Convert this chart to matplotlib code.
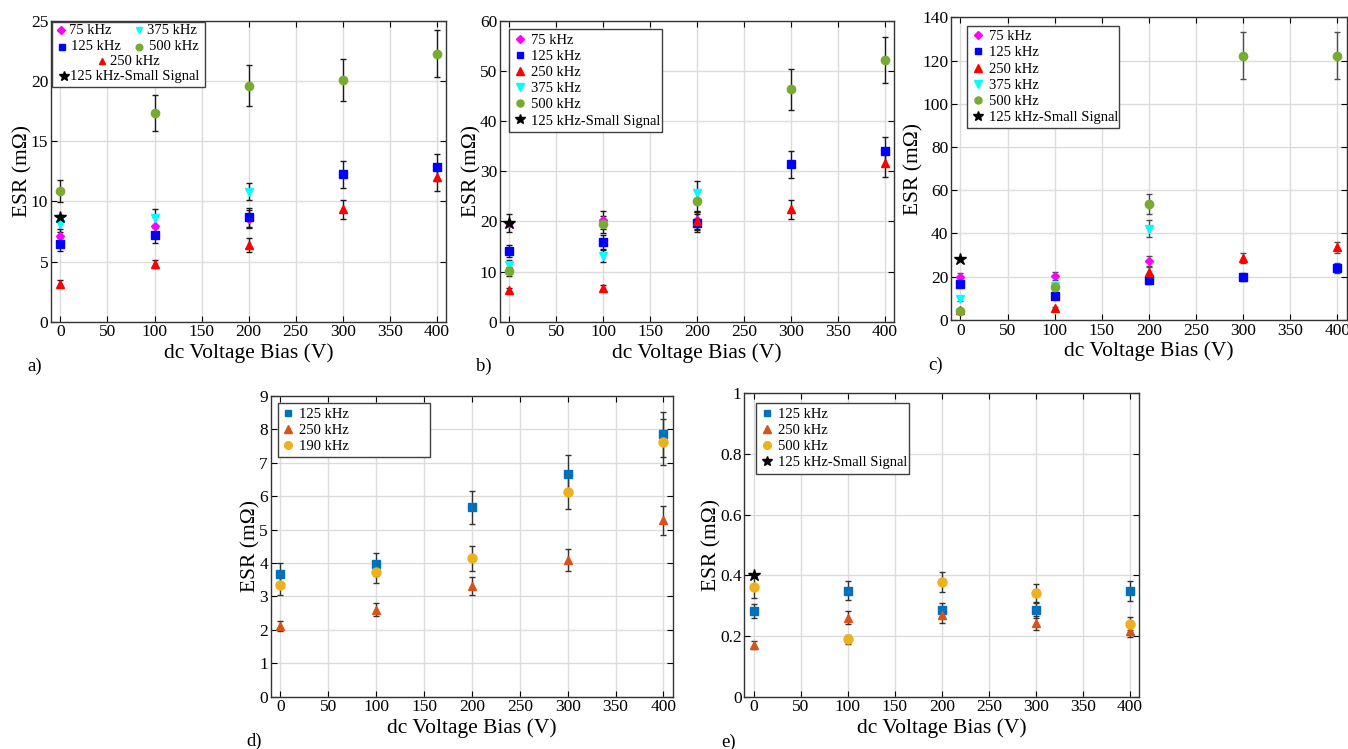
import numpy as np
import matplotlib
matplotlib.use("Agg")
import matplotlib.pyplot as plt
from matplotlib.patches import Rectangle

plt.rcParams['font.family'] = ['Liberation Serif', 'DejaVu Serif']

nan = np.nan
bias = [0, 100, 200, 300, 400]

# ---- panel a) ----
a_75 = [7.12, 7.98, 8.54, nan, nan]
a_75_err = [0.6, 0.7, 0.75, nan, nan]
a_125 = [6.43, 7.18, 8.68, 12.25, 12.83]
a_125_err = [0.55, 0.64, 0.8, 1.1, 1.1]
a_250 = [3.16, 4.82, 6.37, 9.34, 12.0]
a_250_err = [0.28, 0.35, 0.55, 0.8, 1.1]
a_375 = [8.15, 8.65, 10.81, nan, nan]
a_375_err = [0.7, 0.75, 0.7, nan, nan]
a_500 = [10.86, 17.38, 19.62, 20.1, 22.28]
a_500_err = [0.95, 1.5, 1.7, 1.76, 1.95]
a_ss = [8.7]

# ---- panel b) ----
b_75 = [19.76, 20.36, 20.36, nan, nan]
b_75_err = [1.8, 1.8, 1.8, nan, nan]
b_125 = [14.1, 15.83, 19.6, 31.4, 34.0]
b_125_err = [1.2, 1.4, 1.8, 2.75, 2.9]
b_250 = [6.25, 6.65, 20.0, 22.42, 31.6]
b_250_err = [0.5, 0.6, 1.8, 1.9, 2.8]
b_375 = [11.24, 13.04, 25.75, nan, nan]
b_375_err = [1.0, 1.2, 2.3, nan, nan]
b_500 = [10.05, 19.43, 24.15, 46.37, 52.23]
b_500_err = [0.9, 1.7, 2.2, 4.1, 4.55]
b_ss = [19.63]

# ---- panel c) ----
c_75 = [19.7, 20.2, 27.3, nan, nan]
c_75_err = [1.8, 1.8, 2.4, nan, nan]
c_125 = [16.65, 11.1, 18.35, 19.9, 24.05]
c_125_err = [1.5, 1.0, 1.6, 1.8, 2.1]
c_250 = [4.6, 5.55, 22.36, 28.68, 33.6]
c_250_err = [0.4, 0.5, 2.0, 2.5, 2.4]
c_375 = [9.7, 15.9, 42.2, nan, nan]
c_375_err = [0.9, 1.4, 3.9, nan, nan]
c_500 = [4.16, 15.1, 53.5, 122.3, 122.3]
c_500_err = [0.4, 1.3, 4.7, 10.7, 10.7]
c_ss = [28.06]

# ---- panel d) ----
d_125 = [3.66, 3.96, 5.67, 6.66, 7.85]
d_125_err = [0.33, 0.35, 0.49, 0.58, 0.68]
d_250 = [2.12, 2.61, 3.31, 4.09, 5.28]
d_250_err = [0.16, 0.2, 0.26, 0.33, 0.43]
d_190 = [3.35, 3.73, 4.14, 6.14, 7.61]
d_190_err = [0.3, 0.32, 0.37, 0.52, 0.69]

# ---- panel e) ----
e_125 = [0.281, 0.35, 0.285, 0.285, 0.347]
e_125_err = [0.023, 0.03, 0.023, 0.025, 0.033]
e_250 = [0.17, 0.26, 0.269, 0.243, 0.218]
e_250_err = [0.014, 0.021, 0.026, 0.022, 0.02]
e_500 = [0.36, 0.189, 0.378, 0.341, 0.241]
e_500_err = [0.033, 0.016, 0.033, 0.03, 0.021]
e_ss = [0.402]

MAGENTA, BLUE, RED, CYAN, GREEN = '#ff00ff', '#0000ff', '#ff0000', '#00ffff', '#77ac30'
MBLUE, MORANGE, MYELLOW = '#0072bd', '#d95319', '#edb120'


def series(ax, y, err, color, marker, label, ms=5.5, ecolor='0.1'):
    c = ax.errorbar(bias[:len(y)], y, yerr=err, fmt=marker, color=color, ms=ms,
                    mec=color, ecolor=ecolor, elinewidth=1.0, capsize=2.5,
                    capthick=1.0, zorder=3)
    c[0].set_label(label)
    return c[0]


def star(ax, y):
    return ax.plot(bias[:len(y)], y, '*', color='black', ms=9, zorder=4,
                   label='125 kHz-Small Signal')[0]


def style(ax, ymax, ystep, panel, yfmt=None):
    ax.set_xlim(-10, 410)
    ax.set_ylim(0, ymax)
    ax.set_xticks(np.arange(0, 401, 50))
    yt = np.arange(0, ymax + ystep / 2, ystep)
    ax.set_yticks(yt)
    if yfmt:
        ax.set_yticklabels([yfmt(v) for v in yt])
    ax.grid(True, color='#dcdcdc', lw=1.0, zorder=0)
    ax.tick_params(direction='in', top=True, right=True, length=4,
                   labelsize=12.5, pad=2, color='black')
    for s in ax.spines.values():
        s.set_color('0.2')
        s.set_linewidth(1.0)
    ax.set_xlabel('dc Voltage Bias (V)', fontsize=15.5, labelpad=2)
    ax.set_ylabel('ESR (mΩ)', fontsize=15.5, labelpad=-1)
    ax.text(-0.04, -0.15, panel, transform=ax.transAxes, fontsize=13.5,
            ha='center', va='center')


def box_legend(ax, handles, bbox):
    leg = ax.legend(handles=handles, loc='upper left', bbox_to_anchor=bbox,
                    mode='expand', fontsize=10.5, frameon=True, fancybox=False,
                    edgecolor='0.25', framealpha=1, borderpad=0.3,
                    labelspacing=0.2, handlelength=0.9, handletextpad=0.3,
                    borderaxespad=0, markerscale=0.85)
    leg.get_frame().set_linewidth(1.0)
    return leg


fig = plt.figure(figsize=(13.48, 7.49), dpi=100)

# a)
ax = fig.add_axes([0.0378, 0.5705, 0.2933, 0.4015])
h75 = series(ax, a_75, a_75_err, MAGENTA, 'D', '75 kHz', ms=4.5)
h125 = series(ax, a_125, a_125_err, BLUE, 's', '125 kHz')
h250 = series(ax, a_250, a_250_err, RED, '^', '250 kHz', ms=6)
h375 = series(ax, a_375, a_375_err, CYAN, 'v', '375 kHz', ms=6)
h500 = series(ax, a_500, a_500_err, GREEN, 'o', '500 kHz', ms=6)
hss = star(ax, a_ss)
style(ax, 25, 5, 'a)')
# two-column legend box like the original
ax.add_patch(Rectangle((0.003, 0.782), 0.386, 0.216, transform=ax.transAxes,
                       facecolor='white', edgecolor='0.25', lw=1.0, zorder=5))
rows = [(h75, 0.026, 0.045, 0.969), (h375, 0.223, 0.243, 0.969),
        (h125, 0.027, 0.051, 0.915), (h500, 0.223, 0.247, 0.915),
        (h250, 0.129, 0.150, 0.866), (hss, 0.032, 0.049, 0.816)]
for h, mx, tx, y in rows:
    ax.plot([mx], [y], transform=ax.transAxes, marker=h.get_marker(),
            color=h.get_color(), ms=h.get_markersize() * 0.8, ls='none',
            zorder=6, clip_on=False)
    ax.text(tx, y, h.get_label(), transform=ax.transAxes, fontsize=10.5,
            va='center', ha='left', zorder=6)

# b)
ax = fig.add_axes([0.3709, 0.5705, 0.2923, 0.4015])
hs = [series(ax, b_75, b_75_err, MAGENTA, 'D', '75 kHz', ms=4.5),
      series(ax, b_125, b_125_err, BLUE, 's', '125 kHz'),
      series(ax, b_250, b_250_err, RED, '^', '250 kHz', ms=6),
      series(ax, b_375, b_375_err, CYAN, 'v', '375 kHz', ms=6),
      series(ax, b_500, b_500_err, GREEN, 'o', '500 kHz', ms=6),
      star(ax, b_ss)]
style(ax, 60, 10, 'b)')
box_legend(ax, hs, (0.024, 0.972, 0.388, 0.0))

# c)
ax = fig.add_axes([0.7055, 0.5728, 0.2935, 0.4041])
hs = [series(ax, c_75, c_75_err, MAGENTA, 'D', '75 kHz', ms=4.5, ecolor='0.3'),
      series(ax, c_125, c_125_err, BLUE, 's', '125 kHz', ecolor='0.3'),
      series(ax, c_250, c_250_err, RED, '^', '250 kHz', ms=6, ecolor='0.3'),
      series(ax, c_375, c_375_err, CYAN, 'v', '375 kHz', ms=6, ecolor='0.3'),
      series(ax, c_500, c_500_err, GREEN, 'o', '500 kHz', ms=6, ecolor='0.3'),
      star(ax, c_ss)]
style(ax, 140, 20, 'c)')
box_legend(ax, hs, (0.04, 0.972, 0.385, 0.0))

# d)
ax = fig.add_axes([0.2008, 0.0698, 0.2985, 0.4015])
hs = [series(ax, d_125, d_125_err, MBLUE, 's', '125 kHz', ecolor='0.2'),
      series(ax, d_250, d_250_err, MORANGE, '^', '250 kHz', ms=6, ecolor='0.2'),
      series(ax, d_190, d_190_err, MYELLOW, 'o', '190 kHz', ms=6.5, ecolor='0.2')]
style(ax, 9, 1, 'd)')
box_legend(ax, hs, (0.017, 0.976, 0.38, 0.0))

# e)
ax = fig.add_axes([0.5522, 0.0698, 0.2930, 0.4051])
hs = [series(ax, e_125, e_125_err, MBLUE, 's', '125 kHz', ecolor='0.2'),
      series(ax, e_250, e_250_err, MORANGE, '^', '250 kHz', ms=6, ecolor='0.2'),
      series(ax, e_500, e_500_err, MYELLOW, 'o', '500 kHz', ms=6.5, ecolor='0.2'),
      star(ax, e_ss)]
style(ax, 1.0, 0.2, 'e)', yfmt=lambda v: '0' if v == 0 else ('1' if v == 1 else f'{v:.1f}'))
box_legend(ax, hs, (0.029, 0.967, 0.388, 0.0))

fig.savefig('out.png', dpi=100)
